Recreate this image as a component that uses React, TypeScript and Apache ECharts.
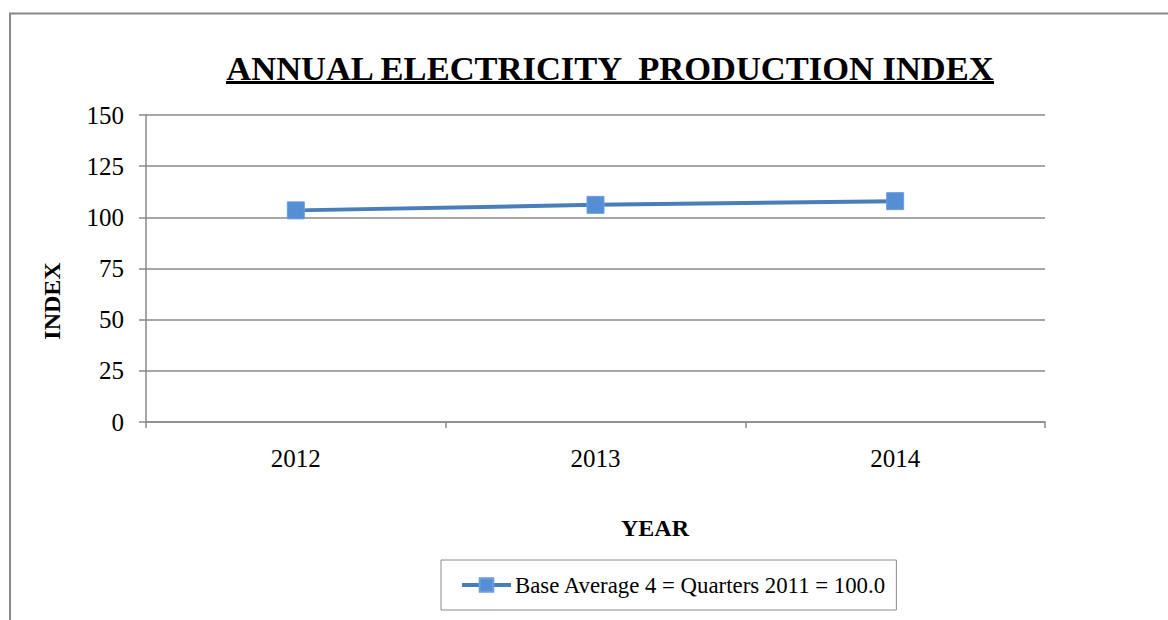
import React, { useEffect, useRef } from "react";
import * as echarts from "echarts";

const years = ["2012", "2013", "2014"];
const indexValues = [103.4, 106.1, 107.9];
const seriesName = "Base Average 4 = Quarters 2011 = 100.0";
const titleText = "ANNUAL ELECTRICITY  PRODUCTION INDEX";
const yAxisTitle = "INDEX";
const xAxisTitle = "YEAR";

const FONT = "'Liberation Serif', 'Times New Roman', serif";

export default function App() {
  const ref = useRef<HTMLDivElement>(null);
  useEffect(() => {
    document.body.style.margin = "0";
    const chart = echarts.init(ref.current!, null, { renderer: "svg" });
    chart.setOption({
      animation: false,
      backgroundColor: "#ffffff",
      textStyle: { fontFamily: FONT },
      grid: { left: 146, right: 123, top: 115, bottom: 198 },
      legend: {
        show: true,
        left: 441,
        top: 560,
        padding: [12, 10, 12, 19],
        borderColor: "#8c8c8c",
        borderWidth: 1,
        itemWidth: 49,
        itemHeight: 17,
        itemGap: 10,
        lineStyle: { width: 4, color: "#4A7EBB" },
        textStyle: { fontFamily: FONT, fontSize: 22.8, color: "#000", lineHeight: 26, padding: [0, 0, 0, -1] },
        data: [seriesName],
      },
      xAxis: {
        type: "category",
        data: years,
        boundaryGap: true,
        axisLine: { show: true, lineStyle: { color: "#8a8a8a", width: 1.5 } },
        axisTick: { show: true, length: 6, lineStyle: { color: "#8a8a8a", width: 1.5 } },
        axisLabel: { fontFamily: FONT, fontSize: 25, color: "#000", margin: 24 },
        splitLine: { show: false },
      },
      yAxis: {
        type: "value",
        min: 0,
        max: 150,
        interval: 25,
        axisLine: { show: true, lineStyle: { color: "#8a8a8a", width: 1.5 } },
        axisTick: { show: true, length: 7, lineStyle: { color: "#8a8a8a", width: 1.5 } },
        axisLabel: { fontFamily: FONT, fontSize: 25, color: "#000", margin: 22 },
        splitLine: { show: true, lineStyle: { color: "#8a8a8a", width: 1.5 } },
      },
      series: [
        {
          name: seriesName,
          type: "line",
          data: indexValues,
          symbol: "rect",
          symbolSize: 17,
          lineStyle: { color: "#4A7EBB", width: 4 },
          itemStyle: { color: "#558ED5", borderColor: "#6C9DE0", borderWidth: 1 },
        },
      ],
      graphic: [
        {
          type: "polyline",
          shape: { points: [[10, 620], [10, 13.5], [1168, 13.5]] },
          style: { stroke: "#898989", lineWidth: 2, fill: "none" },
          silent: true,
        },
        {
          type: "text",
          x: 610,
          y: 67.5,
          style: {
            text: titleText,
            fontFamily: FONT,
            fontSize: 34.5,
            fontWeight: "bold",
            fill: "#000",
            textAlign: "center",
            textVerticalAlign: "middle",
          },
        },
        {
          type: "rect",
          shape: { x: 226, y: 81, width: 768, height: 3 },
          style: { fill: "#000" },
        },
        {
          type: "text",
          x: 52,
          y: 301,
          rotation: Math.PI / 2,
          style: {
            text: yAxisTitle,
            fontFamily: FONT,
            fontSize: 24,
            fontWeight: "bold",
            fill: "#000",
            textAlign: "center",
            textVerticalAlign: "middle",
          },
        },
        {
          type: "text",
          x: 655,
          y: 528,
          style: {
            text: xAxisTitle,
            fontFamily: FONT,
            fontSize: 24,
            fontWeight: "bold",
            fill: "#000",
            textAlign: "center",
            textVerticalAlign: "middle",
          },
        },
      ],
    });
    return () => chart.dispose();
  }, []);
  return <div ref={ref} style={{ position: "fixed", left: 0, top: 0, width: 1168, height: 620 }} />;
}
